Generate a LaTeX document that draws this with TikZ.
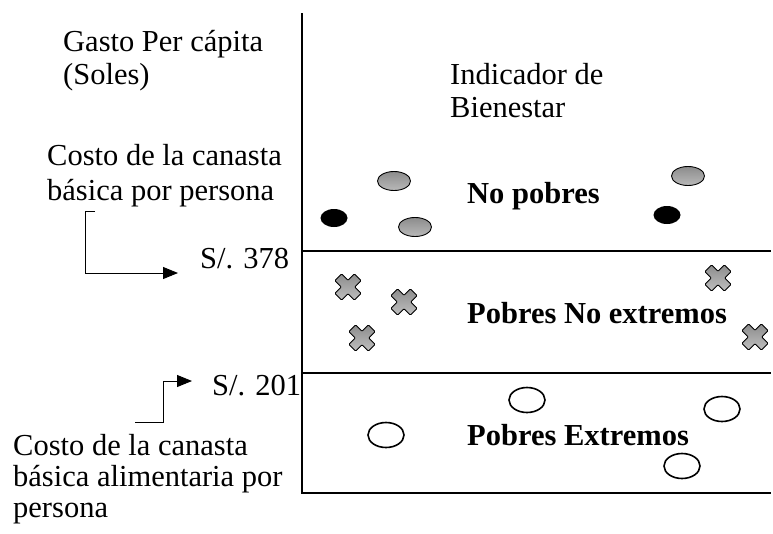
\documentclass[tikz,border=0pt]{standalone}
\usepackage{fontspec}
\setmainfont{Liberation Serif}
\usepackage{tikz}
\usetikzlibrary{shapes.geometric, arrows.meta, positioning, calc}

\begin{document}
\begin{tikzpicture}[
                x=1pt, y=-1pt,
                % Estilo para los textos
                texto/.style={
                    anchor=base west, align=left, inner sep=0pt,
                    font=\fontsize{30.5}{33}\selectfont
                },
                estrato/.style={
                    texto, font=\fontsize{30.5}{33}\selectfont\bfseries
                },
                % Ejes y lineas de pobreza
                eje/.style={line width=1.8pt},
                % Flechas de las canastas
                flecha/.style={
                    -{Triangle[length=15pt,width=12pt]}, line width=0.9pt
                },
                % Hogares no pobres
                gris/.style={
                    ellipse, draw, line width=0.9pt,
                    top color=gray!90, bottom color=gray!55,
                    minimum width=33pt, minimum height=19pt, inner sep=0pt
                },
                negro/.style={
                    ellipse, fill=black,
                    minimum width=27pt, minimum height=18pt, inner sep=0pt
                },
                % Hogares pobres extremos
                vacio/.style={
                    ellipse, draw, line width=1.6pt,
                    minimum width=36pt, minimum height=25pt, inner sep=0pt
                },
                % Hogares pobres no extremos
                cruz/.pic={
                    \draw[line width=0.8pt, top color=gray!90, bottom color=gray!50,
                          rotate=45, rounded corners=0.8pt]
                        (-4.8,-13.8) -- (4.8,-13.8) -- (4.8,-4.8) -- (13.8,-4.8)
                        -- (13.8,4.8) -- (4.8,4.8) -- (4.8,13.8) -- (-4.8,13.8)
                        -- (-4.8,4.8) -- (-13.8,4.8) -- (-13.8,-4.8) -- (-4.8,-4.8)
                        -- cycle;
                }
            ]
                \useasboundingbox (0,0) rectangle (773,533);

                % 1. Ejes y lineas
                \coordinate (arriba) at (302,13);
                \coordinate (origen) at (302,493);
                \coordinate (fin) at (771,493);
                \draw[eje] (arriba) -- (origen) -- (fin);
                \draw[eje] (302,251) -- (771,251);
                \draw[eje] (302,373) -- (771,373);

                % 2. Textos (base = ultima linea)
                \node[texto] (gasto) at (63,84) {Gasto Per cápita\\(Soles)};
                \node[texto] (indicador) at (450,117) {Indicador de\\Bienestar};
                \node[texto, font=\fontsize{30.5}{35}\selectfont] (canasta) at (47,200)
                    {Costo de la canasta\\básica por persona};
                \node[texto] (s378) at (200,268) {S/. 378};
                \node[texto] (s201) at (212,395) {S/. 201};
                \node[texto, font=\fontsize{30.5}{31}\selectfont] (alimentaria) at (13,517)
                    {Costo de la canasta\\básica alimentaria por\\persona};

                \node[estrato] (nopobres) at (467,203) {No pobres};
                \node[estrato] (noextremos) at (467,323) {Pobres No extremos};
                \node[estrato] (extremos) at (467,445) {Pobres Extremos};

                % 3. Flechas
                \coordinate (f1) at (95,211);
                \draw[flecha] (f1) -- ++(-10,0) |- ([xshift=-22pt,yshift=-5pt]s378.base west);
                \coordinate (f2) at (135,422);
                \draw[flecha] (f2) -- ++(28,0) |- ([xshift=-20pt,yshift=14pt]s201.base west);

                % 4. No pobres
                \node[gris] (g1) at (394,181) {};
                \node[gris] (g2) at (415,227) {};
                \node[gris] (g3) at (688,176) {};
                \node[negro] (n1) at (334,218) {};
                \node[negro] (n2) at (667,215) {};

                % 5. Pobres no extremos
                \pic (c1) at (348,287) {cruz};
                \pic (c2) at (404,302) {cruz};
                \pic (c3) at (362,338) {cruz};
                \pic (c4) at (718,278) {cruz};
                \pic (c5) at (755,337) {cruz};

                % 6. Pobres extremos
                \node[vacio] (v1) at (386,435) {};
                \node[vacio] (v2) at (527,400) {};
                \node[vacio] (v3) at (722,409) {};
                \node[vacio] (v4) at (682,466) {};

            \end{tikzpicture}
\end{document}
